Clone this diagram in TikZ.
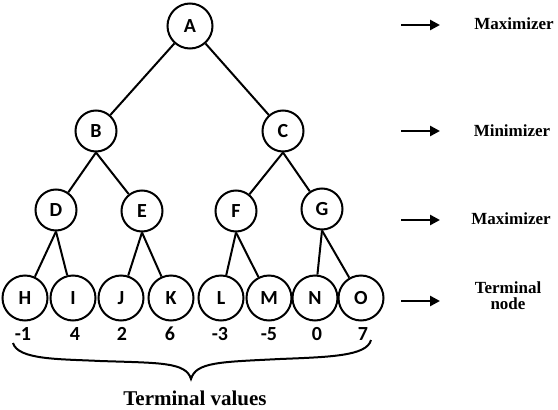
\documentclass[tikz,border=0pt]{standalone}
\usepackage{fontspec}
\setmainfont{Liberation Serif}
\newfontfamily\nodefont{Carlito}
\usetikzlibrary{arrows.meta}
\begin{document}
\begin{tikzpicture}[x=1pt,y=-1pt,
  tnode/.style={draw,circle,line width=2pt,minimum size=41pt,inner sep=0pt,font=\nodefont\bfseries\fontsize{20}{22}\selectfont},
  leaf/.style={tnode,minimum size=45pt},
  val/.style={font=\nodefont\bfseries\fontsize{20}{22}\selectfont},
  edge/.style={line width=2pt},
  lbl/.style={font=\bfseries\fontsize{17}{18}\selectfont,align=center},
  big/.style={font=\bfseries\fontsize{21}{23}\selectfont},
  arr/.style={line width=2.6pt,-{Triangle[length=10pt,width=10pt]}}
]
\useasboundingbox (0,0) rectangle (558,410);
% tree nodes
\node[tnode,minimum size=45pt] (A) at (190,26) {A};
\node[tnode] (B) at (96,131) {B};
\node[tnode] (C) at (283,131) {C};
\node[tnode] (D) at (56,210) {D};
\node[tnode] (E) at (142,211) {E};
\node[tnode] (F) at (236,211) {F};
\node[tnode] (G) at (322,209) {G};
\node[leaf] (H) at (25,298) {H};
\node[leaf] (I) at (73,298) {I};
\node[leaf] (J) at (121,298) {J};
\node[leaf] (K) at (171,298) {K};
\node[leaf] (L) at (221,298) {L};
\node[leaf] (M) at (269,298) {M};
\node[leaf] (N) at (315,298) {N};
\node[leaf] (O) at (361,298) {O};
% edges
\draw[edge] (A) -- (B);
\draw[edge] (A) -- (C);
\draw[edge] (B.south) -- (D);
\draw[edge] (B.south) -- (E);
\draw[edge] (C.south) -- (F);
\draw[edge] (C.south) -- (G);
\draw[edge] (D.south) -- (H);
\draw[edge] (D.south) -- (I);
\draw[edge] (E.south) -- (J);
\draw[edge] (E.south) -- (K);
\draw[edge] (F.south) -- (L);
\draw[edge] (F.south) -- (M);
\draw[edge] (G.south) -- (N);
\draw[edge] (G.south) -- (O);
% values
\node[val] (vH) at (23,334) {-1};
\node[val] (vI) at (75,334) {4};
\node[val] (vJ) at (122,334) {2};
\node[val] (vK) at (170,334) {6};
\node[val] (vL) at (220,334) {-3};
\node[val] (vM) at (269,334) {-5};
\node[val] (vN) at (317,334) {0};
\node[val] (vO) at (363,334) {7};
% brace
\coordinate (bl) at (13,343);
\coordinate (bt) at (191,379);
\coordinate (br) at (371,340);
\draw[line width=2pt] (bl) .. controls (18,360) and (60,359) .. (100,361)
  .. controls (160,363) and (186,362) .. (bt)
  .. controls (196,362) and (220,362) .. (280,359)
  .. controls (330,357) and (367,356) .. (br);
\node[big] (tv) at (195,398) {Terminal values};
% right side labels
\coordinate (a1s) at (401,25); \coordinate (a1e) at (440,25);
\coordinate (a2s) at (401,131); \coordinate (a2e) at (440,131);
\coordinate (a3s) at (401,220); \coordinate (a3e) at (440,220);
\coordinate (a4s) at (401,301); \coordinate (a4e) at (440,301);
\draw[arr] (a1s) -- (a1e);
\draw[arr] (a2s) -- (a2e);
\draw[arr] (a3s) -- (a3e);
\draw[arr] (a4s) -- (a4e);
\node[lbl] (l1) at (514,24) {Maximizer};
\node[lbl] (l2) at (512,131) {Minimizer};
\node[lbl] (l3) at (511,219) {Maximizer};
\node[lbl] (l4) at (508,296) {Terminal\\[-2pt]node};
\end{tikzpicture}
\end{document}
